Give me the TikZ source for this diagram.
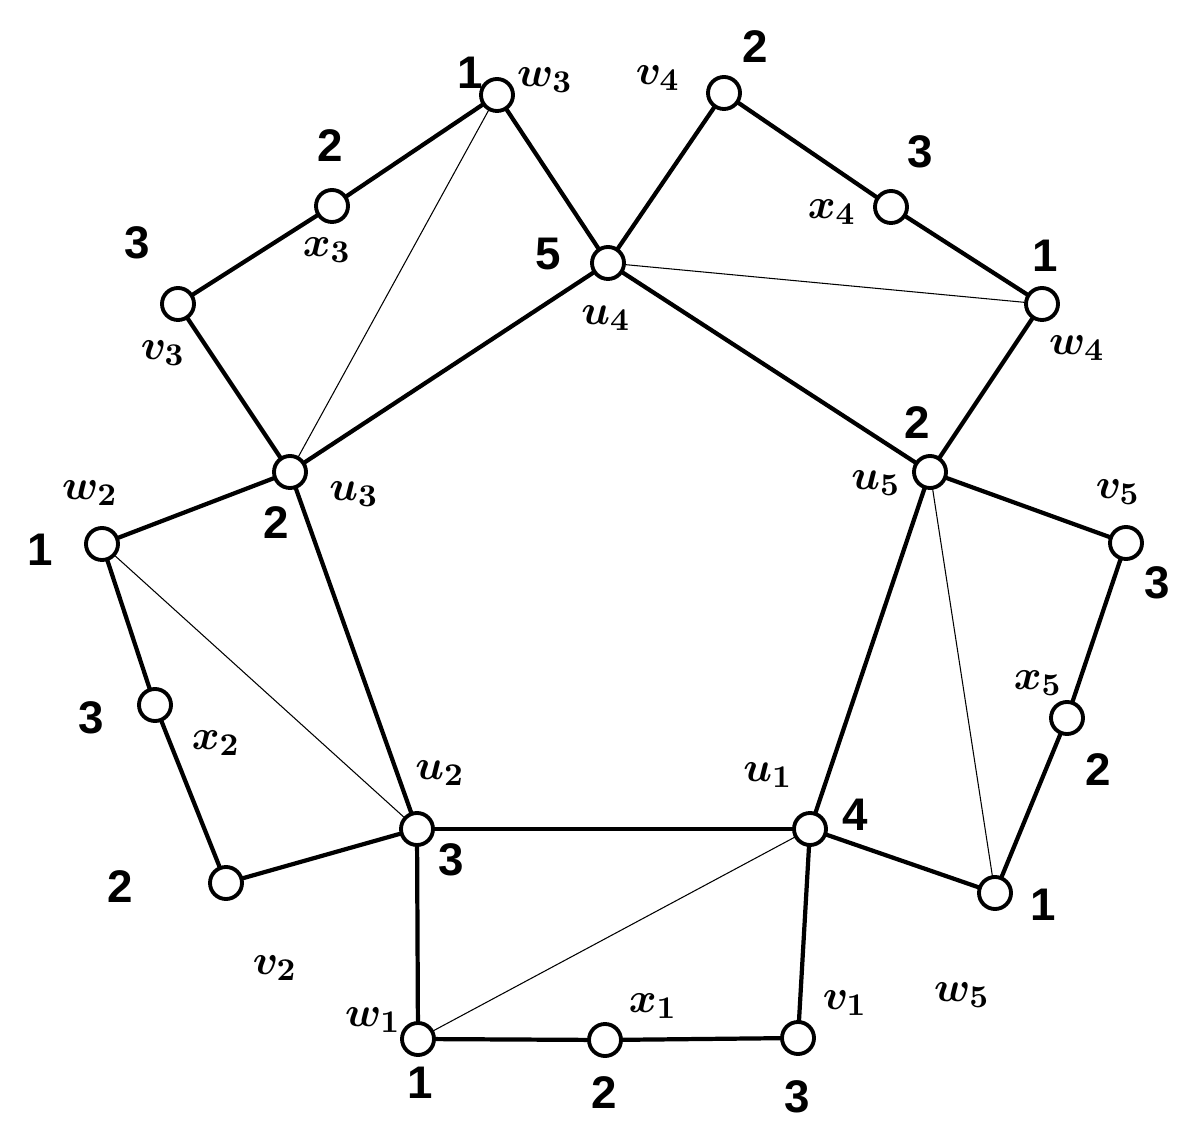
\documentclass[tikz,border=0pt]{standalone}
\usepackage{amsmath,bm}
\usepackage{fontspec}
\setmainfont{Liberation Sans}
\begin{document}
\begin{tikzpicture}[x=0.01cm,y=-0.01cm,
  vx/.style={circle,draw,line width=1.1pt,fill=white,minimum size=0.32cm,inner sep=0pt},
  thk/.style={line width=1.2pt},
  thn/.style={line width=0.3pt},
  lb/.style={font=\fontsize{13}{15}\selectfont\bfseries,inner sep=0pt}]
\useasboundingbox (0,0) rectangle (1200,1137);
\foreach \n/\x/\y in {w3/497/95,v4/724/93,x3/332/206,x4/891/207,u4/608/263,v3/178/304,w4/1042/304,u3/290/472,u5/930/472,w2/102/544,v5/1126/543,x2/155/705,x5/1067/718,u2/417/829,u1/810/829,v2/226/883,w5/995/893,w1/418/1039,x1/605/1040,v1/798/1038}
  \coordinate (\n) at (\x,\y);
\foreach \a/\b in {w3/u3,u4/w4,u5/w5,w2/u2,u1/w1} \draw[thn] (\a)--(\b);
\foreach \a/\b in {w3/x3,x3/v3,v3/u3,u3/u4,u4/w3,u4/v4,v4/x4,x4/w4,w4/u5,u5/u4,u5/v5,v5/x5,x5/w5,w5/u1,u1/u5,u3/w2,w2/x2,x2/v2,v2/u2,u2/u3,u2/u1,u2/w1,w1/x1,x1/v1,v1/u1}
  \draw[thk] (\a)--(\b);
\foreach \n in {w3,v4,x3,x4,u4,v3,w4,u3,u5,w2,v5,x2,x5,u2,u1,v2,w5,w1,x1,v1}
  \node[vx] (n\n) at (\n) {};
\foreach \t/\x/\y [count=\i] in {1/470/73,2/755/47,2/330/146,3/920/152,3/137/243,5/548/254,1/1045/256,2/917/423,1/40/550,2/276/523,3/1157/583,3/91/718,2/1098/770,4/855/815,3/451/860,2/120/887,1/1043/905,1/420/1083,2/604/1093,3/797/1097}
  \node[lb] (num\i) at (\x,\y) {\t};
\foreach \s/\k/\x/\y [count=\i] in {w/3/545/80,v/4/658/78,x/3/327/250,x/4/832/212,u/4/606/318,w/4/1077/348,v/3/163/353,w/2/90/493,u/5/876/483,v/5/1118/492,u/3/354/494,x/5/1038/683,x/2/216/743,u/2/440/773,u/1/768/775,v/2/275/968,w/5/962/995,w/1/373/1020,x/1/653/1006,v/1/845/1003}
  \node[inner sep=0pt,font=\fontsize{13}{15}\selectfont] (lab\i) at (\x,\y) {$\bm{\s_{\k}}$};
\end{tikzpicture}
\end{document}
